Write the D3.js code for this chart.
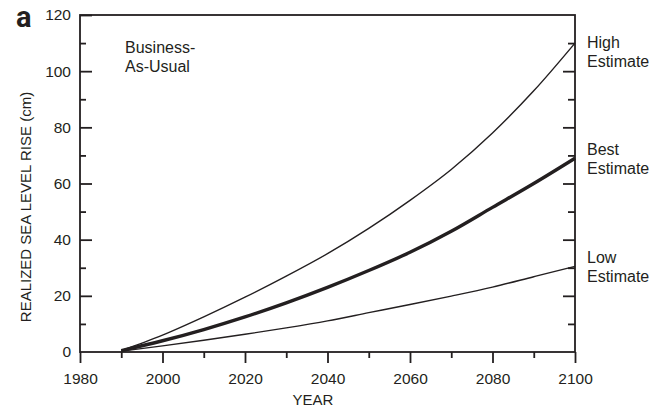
<!DOCTYPE html>
<html>
<head>
<meta charset="utf-8">
<script src="https://cdn.jsdelivr.net/npm/d3@7"></script>
<style>
  html, body { margin: 0; padding: 0; background: #fff; }
  svg text { font-family: "Liberation Sans", Arial, Helvetica, sans-serif; fill: #231f20; }
  svg text.panel { font-family: Roboto, "Liberation Sans", Arial, sans-serif; font-weight: 700; }
</style>
</head>
<body>
<svg id="chart" width="662" height="412"></svg>
<script>
// Realized sea level rise under the Business-As-Usual scenario (cm)
const years = [1990, 2000, 2010, 2020, 2030, 2040, 2050, 2060, 2070, 2080, 2090, 2100];
const highEstimate = [0.5, 6, 12.5, 19.5, 27, 35, 44, 54, 65, 78, 93, 110];
const bestEstimate = [0.5, 4, 8, 12.5, 17.5, 23, 29, 35.5, 43, 51.5, 60, 69];
const lowEstimate  = [0.3, 2.2, 4.2, 6.3, 8.6, 11.1, 14, 16.9, 19.9, 23.1, 26.8, 30.5];

const xMajorTicks = [1980, 2000, 2020, 2040, 2060, 2080, 2100];
const xMinorTicks = [1990, 2010, 2030, 2050, 2070, 2090];
const yMajorTicks = [0, 20, 40, 60, 80, 100, 120];
const yMinorTicks = [10, 30, 50, 70, 90, 110];

const seriesNames = ["High", "Best", "Low"];
const seriesValues = [highEstimate, bestEstimate, lowEstimate];

const ink = "#231f20";
const svg = d3.select("#chart");
const plotLeft = 80, plotRight = 575, plotTop = 15, plotBottom = 352;

const x = d3.scaleLinear().domain([1980, 2100]).range([plotLeft, plotRight]);
const y = d3.scaleLinear().domain([0, 120]).range([plotBottom, plotTop]);

// Axes: bottom ticks point outward, left/right ticks point into the plot
function styleAxis(g) {
  g.select(".domain").remove();
  g.selectAll(".tick line").attr("stroke", ink).attr("stroke-width", 1.8);
  g.selectAll(".tick text").attr("font-size", 15.5).attr("fill", ink);
}

svg.append("g").attr("transform", `translate(0,${plotBottom})`)
  .call(d3.axisBottom(x).tickValues(xMajorTicks).tickSizeInner(11).tickSizeOuter(0)
    .tickPadding(10).tickFormat(d3.format("d")))
  .call(styleAxis);
svg.append("g").attr("transform", `translate(0,${plotBottom})`)
  .call(d3.axisBottom(x).tickValues(xMinorTicks).tickSizeInner(6).tickSizeOuter(0).tickFormat(""))
  .call(styleAxis);

svg.append("g").attr("transform", `translate(${plotLeft},0)`)
  .call(d3.axisLeft(y).tickValues(yMajorTicks.filter(v => v > 0)).tickSizeInner(-12).tickSizeOuter(0).tickPadding(9))
  .call(styleAxis);
svg.append("g").attr("transform", `translate(${plotLeft},0)`)
  .call(d3.axisLeft(y).tickValues([0]).tickSizeInner(0).tickSizeOuter(0).tickPadding(9))
  .call(styleAxis);
svg.append("g").attr("transform", `translate(${plotLeft},0)`)
  .call(d3.axisLeft(y).tickValues(yMinorTicks).tickSizeInner(-6).tickSizeOuter(0).tickFormat(""))
  .call(styleAxis);

svg.append("g").attr("transform", `translate(${plotRight},0)`)
  .call(d3.axisRight(y).tickValues(yMajorTicks.filter(v => v > 0 && v < 120)).tickSizeInner(-12).tickSizeOuter(0).tickFormat(""))
  .call(styleAxis);
svg.append("g").attr("transform", `translate(${plotRight},0)`)
  .call(d3.axisRight(y).tickValues(yMinorTicks).tickSizeInner(-7).tickSizeOuter(0).tickFormat(""))
  .call(styleAxis);

// Plot frame
svg.append("rect")
  .attr("x", plotLeft).attr("y", plotTop)
  .attr("width", plotRight - plotLeft).attr("height", plotBottom - plotTop)
  .attr("fill", "none").attr("stroke", ink).attr("stroke-width", 1.8);

// Curves
const line = d3.line()
  .x((d, i) => x(years[i]))
  .y(d => y(d))
  .curve(d3.curveMonotoneX);

seriesValues.forEach((vals, k) => {
  svg.append("path")
    .datum(vals)
    .attr("d", line)
    .attr("fill", "none")
    .attr("stroke", ink)
    .attr("stroke-width", seriesNames[k] === "Best" ? 3.4 : 1.4)
    .attr("stroke-linejoin", "round");
});

// Curve labels on the right
const labelBaselines = { High: 47.5, Best: 155, Low: 263 };
seriesNames.forEach(name => {
  const t = svg.append("text").attr("x", 587).attr("y", labelBaselines[name]).attr("font-size", 16);
  t.append("tspan").attr("x", 587).text(name);
  t.append("tspan").attr("x", 587).attr("dy", 19).text("Estimate");
});

// Scenario label
const sc = svg.append("text").attr("x", 125).attr("y", 52.5).attr("font-size", 16);
sc.append("tspan").attr("x", 125).text("Business-");
sc.append("tspan").attr("x", 125).attr("dy", 19).text("As-Usual");

// Axis titles
svg.append("text")
  .attr("x", 313).attr("y", 405)
  .attr("text-anchor", "middle").attr("font-size", 15)
  .text("YEAR");
svg.append("text")
  .attr("transform", "translate(31,207) rotate(-90)")
  .attr("text-anchor", "middle").attr("font-size", 15)
  .text("REALIZED SEA LEVEL RISE (cm)");

// Panel letter
svg.append("text")
  .attr("class", "panel")
  .attr("x", 16).attr("y", 27)
  .attr("font-size", 29)
  .text("a");
</script>
</body>
</html>
